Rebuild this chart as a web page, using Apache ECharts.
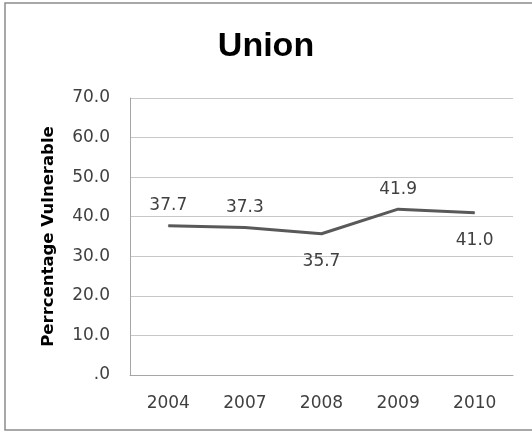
<!DOCTYPE html>
<html>
<head>
<meta charset="utf-8">
<script src="https://cdn.jsdelivr.net/npm/echarts@6/dist/echarts.min.js"></script>
<style>
html,body{margin:0;padding:0;background:#fff;}
#c{width:532px;height:433px;}
</style>
</head>
<body>
<div id="c"></div>
<script>
var titleText = 'Union';
var yAxisName = 'Perrcentage Vulnerable';
var categories = ['2004', '2007', '2008', '2009', '2010'];
var values = [37.7, 37.3, 35.7, 41.9, 41.0];
var labelPositions = ['top', 'top', 'bottom', 'top', 'bottom'];

var chart = echarts.init(document.getElementById('c'), null, {renderer: 'canvas'});
var font = '"DejaVu Sans", "Liberation Sans", sans-serif';
chart.setOption({
  animation: false,
  backgroundColor: '#ffffff',
  graphic: [{
    type: 'rect',
    shape: {x: 5, y: 3, width: 560, height: 427},
    style: {fill: 'none', stroke: '#8c8c8c', lineWidth: 1.5},
    silent: true
  }],
  title: {
    text: titleText,
    left: 'center',
    top: 25,
    textStyle: {fontFamily: '"Liberation Sans", Arial, sans-serif', fontSize: 34, fontWeight: 'bold', color: '#000'}
  },
  grid: {left: 130, right: 19, top: 98, bottom: 58, containLabel: false},
  xAxis: {
    type: 'category',
    data: categories,
    boundaryGap: true,
    axisLine: {lineStyle: {color: '#a6a6a6', width: 1}},
    axisTick: {show: false},
    axisLabel: {fontFamily: font, fontSize: 17, color: '#404040', margin: 20}
  },
  yAxis: {
    type: 'value',
    min: 0,
    max: 70,
    interval: 10,
    name: yAxisName,
    nameLocation: 'middle',
    nameGap: 73,
    nameTextStyle: {fontFamily: font, fontSize: 16.5, fontWeight: 'bold', color: '#000'},
    axisLine: {show: true, lineStyle: {color: '#a6a6a6', width: 1}},
    axisTick: {show: false},
    splitLine: {lineStyle: {color: '#c8c8c8', width: 1}},
    axisLabel: {
      fontFamily: font, fontSize: 17, color: '#404040', margin: 20,
      formatter: function (v) { return v === 0 ? '.0' : v.toFixed(1); }
    }
  },
  series: [{
    type: 'line',
    data: values.map(function (v, i) {
      return {
        value: v,
        label: {show: true, position: labelPositions[i], distance: labelPositions[i] === 'top' ? 11 : 19}
      };
    }),
    symbol: 'circle',
    symbolSize: 1,
    showSymbol: true,
    itemStyle: {color: '#595959'},
    lineStyle: {color: '#595959', width: 3},
    label: {
      show: true,
      fontFamily: font, fontSize: 17, color: '#404040',
      formatter: function (p) { return p.value.toFixed(1); }
    }
  }]
});
</script>
</body>
</html>
